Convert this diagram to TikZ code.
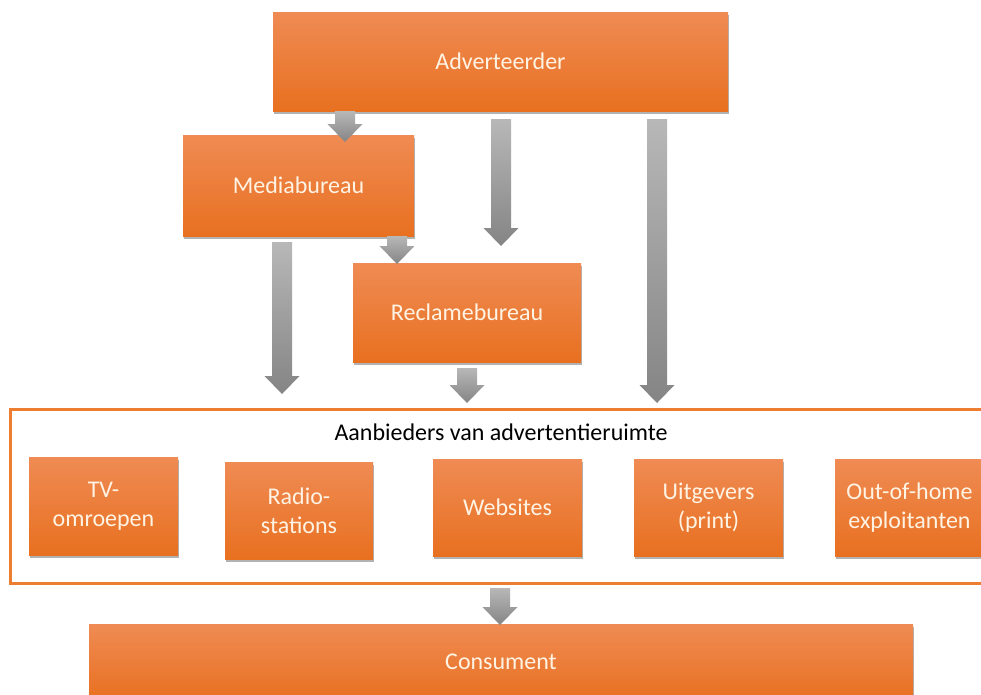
\documentclass[tikz,border=0pt]{standalone}
\usepackage{fontspec}
\setmainfont{Carlito}
\usetikzlibrary{shadows,calc}
\definecolor{orTop}{RGB}{239,139,84}
\definecolor{orBot}{RGB}{232,112,32}
\definecolor{orLine}{RGB}{237,125,49}
\definecolor{cream}{RGB}{255,243,228}
\tikzset{
  obox/.style={rectangle, inner sep=2pt, outer sep=0pt, top color=orTop, bottom color=orBot,
    text=cream, align=center, font=\fontsize{24}{29}\selectfont,
    drop shadow={shadow xshift=1pt, shadow yshift=-2.5pt, opacity=0.3, fill=black}},
  arrowfill/.style={top color=black!28, bottom color=black!48},
}
\newcommand\fatarrow[2]{%
  \path[arrowfill] let \p1=(#1), \p2=(#2) in
    (\x1-10pt,\y1) -- (\x1+10pt,\y1) -- (\x1+10pt,\y2+18pt) -- (\x1+17.5pt,\y2+18pt)
    -- (\x1,\y2) -- (\x1-17.5pt,\y2+18pt) -- (\x1-10pt,\y2+18pt) -- cycle;}
\begin{document}
\begin{tikzpicture}[x=1pt,y=-1pt]
\useasboundingbox (0,0) rectangle (981,694);
\clip (0,0) rectangle (981,694);
\fill[white] (0,0) rectangle (981,694);
% frame
\node[draw=orLine, line width=3pt, rectangle, minimum width=985pt, minimum height=174pt, inner sep=0pt] (frame) at (502.5,496) {};
\node[font=\fontsize{24}{29}\selectfont, text=black] (title) at (501,432) {Aanbieders van advertentieruimte};
% main boxes
\node[obox, minimum width=455pt, minimum height=99pt] (adv) at (500.5,61.5) {Adverteerder};
\node[obox, minimum width=231pt, minimum height=101pt] (media) at (298.5,185.5) {Mediabureau};
\node[obox, minimum width=228pt, minimum height=99pt] (recl) at (467,312.5) {Reclamebureau};
% provider boxes
\node[obox, minimum width=149pt, minimum height=98pt] (tv) at (103.5,506) {TV-\\omroepen};
\node[obox, minimum width=148pt, minimum height=97pt] (radio) at (299,510.5) {Radio-\\stations};
\node[obox, minimum width=149pt, minimum height=97pt] (web) at (507.5,507.5) {Websites};
\node[obox, minimum width=149pt, minimum height=97pt] (uitg) at (708.5,507.5) {Uitgevers\\(print)};
\node[obox, minimum width=149pt, minimum height=97pt] (ooh) at (909.5,507.5) {Out-of-home\\exploitanten};
\node[obox, minimum width=824pt, minimum height=76pt] (cons) at (501,662) {Consument};
% arrow end points
\coordinate (a1s) at (345,111);  \coordinate (a1e) at (345,142);
\coordinate (a2s) at (501,119);  \coordinate (a2e) at (501,246);
\coordinate (a3s) at (657,119);  \coordinate (a3e) at (657,403);
\coordinate (a4s) at (397,236);  \coordinate (a4e) at (397,264);
\coordinate (a5s) at (282,242);  \coordinate (a5e) at (282,394);
\coordinate (a6s) at (467,368);  \coordinate (a6e) at (467,403);
\coordinate (a7s) at (500,588);  \coordinate (a7e) at (500,625);
\fatarrow{a1s}{a1e}
\fatarrow{a2s}{a2e}
\fatarrow{a3s}{a3e}
\fatarrow{a4s}{a4e}
\fatarrow{a5s}{a5e}
\fatarrow{a6s}{a6e}
\fatarrow{a7s}{a7e}
\end{tikzpicture}
\end{document}
